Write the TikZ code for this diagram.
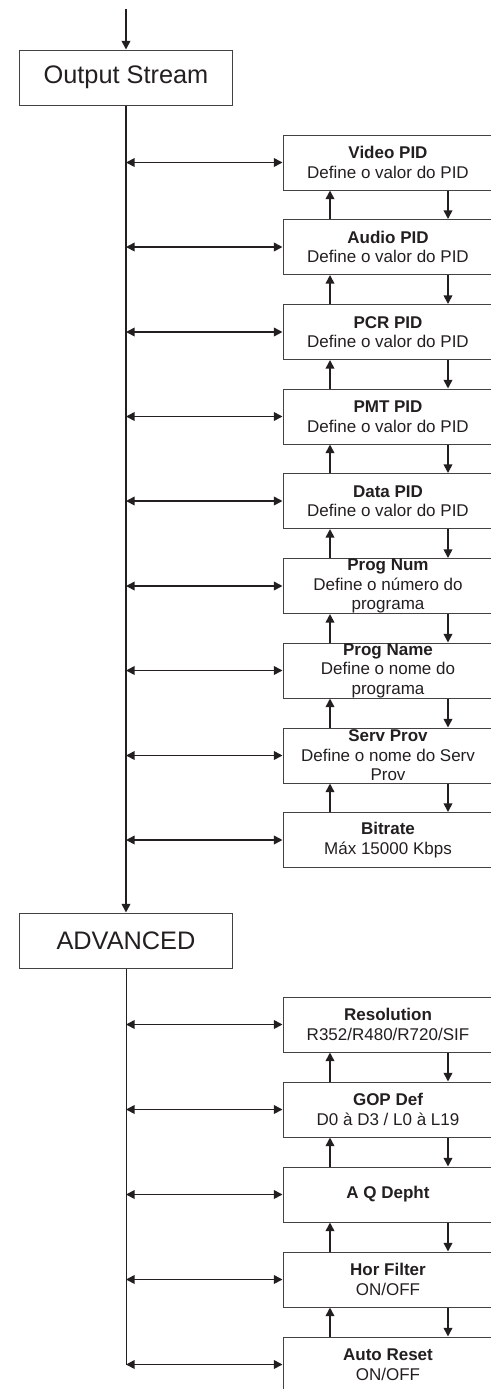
\documentclass[tikz,border=0pt]{standalone}
\usepackage{fontspec}
\setmainfont{Liberation Sans}
\usetikzlibrary{arrows.meta}
\definecolor{ink}{HTML}{231F20}

\begin{document}
\begin{tikzpicture}[x=0.75pt,y=-0.75pt,
  >={Triangle[length=6.5pt,width=6.5pt]},
  menu/.style={draw=ink!85,line width=0.75pt,text=ink,minimum width=159.75pt,minimum height=41.25pt,inner sep=0pt,font=\fontsize{19}{23}\selectfont},
  param/.style={draw=ink!85,line width=0.75pt,text=ink,minimum width=157.5pt,minimum height=41.25pt,inner sep=0pt,align=center,font=\fontsize{12.75}{14.6}\selectfont},
  link/.style={draw=ink,line width=1.25pt}]
\useasboundingbox (0,0) rectangle (491,1389);
\coordinate (t) at (126,9);
\coordinate (s) at (126,0);
\coordinate (u) at (330,0);
\coordinate (d) at (448,0);
\node (0) at (126,77.5) [menu] {Output Stream};
\node (1) at (388,162.5) [param] {\textbf{Video PID}\\Define o valor do PID};
\node (2) at (388,247) [param] {\textbf{Audio PID}\\Define o valor do PID};
\node (3) at (388,332) [param] {\textbf{PCR PID}\\Define o valor do PID};
\node (4) at (388,416.5) [param] {\textbf{PMT PID}\\Define o valor do PID};
\node (5) at (388,501) [param] {\textbf{Data PID}\\Define o valor do PID};
\node (6) at (388,586) [param] {\textbf{Prog Num}\\Define o número do\\programa};
\node (7) at (388,670.5) [param] {\textbf{Prog Name}\\Define o nome do\\programa};
\node (8) at (388,755.5) [param] {\textbf{Serv Prov}\\Define o nome do Serv\\Prov};
\node (9) at (388,840) [param] {\textbf{Bitrate}\\Máx 15000 Kbps};
\node (10) at (126,940.5) [menu] {ADVANCED};
\node (11) at (388,1024.5) [param] {\textbf{Resolution}\\R352/R480/R720/SIF};
\node (12) at (388,1109.5) [param] {\textbf{GOP Def}\\D0 à D3 / L0 à L19};
\node (13) at (388,1194.5) [param] {\textbf{A Q Depht}};
\node (14) at (388,1279.5) [param] {\textbf{Hor Filter}\\ON/OFF};
\node (15) at (388,1364.5) [param] {\textbf{Auto Reset}\\ON/OFF};
\draw [link,->] (t) -- (0);
\draw [link,->] (0) -- (10);
\draw [draw=ink,line width=0.6pt] (10) -- (15.west -| s);
\draw [link,<->] (1.west -| s) -- (1);
\draw [link,<->] (2.west -| s) -- (2);
\draw [link,<->] (3.west -| s) -- (3);
\draw [link,<->] (4.west -| s) -- (4);
\draw [link,<->] (5.west -| s) -- (5);
\draw [link,<->] (6.west -| s) -- (6);
\draw [link,<->] (7.west -| s) -- (7);
\draw [link,<->] (8.west -| s) -- (8);
\draw [link,<->] (9.west -| s) -- (9);
\draw [link,<->] (11.west -| s) -- (11);
\draw [link,<->] (12.west -| s) -- (12);
\draw [link,<->] (13.west -| s) -- (13);
\draw [link,<->] (14.west -| s) -- (14);
\draw [link,<->] (15.west -| s) -- (15);
\draw [link,->] (2.north -| u) -- (1.south -| u);
\draw [link,->] (1.south -| d) -- (2.north -| d);
\draw [link,->] (3.north -| u) -- (2.south -| u);
\draw [link,->] (2.south -| d) -- (3.north -| d);
\draw [link,->] (4.north -| u) -- (3.south -| u);
\draw [link,->] (3.south -| d) -- (4.north -| d);
\draw [link,->] (5.north -| u) -- (4.south -| u);
\draw [link,->] (4.south -| d) -- (5.north -| d);
\draw [link,->] (6.north -| u) -- (5.south -| u);
\draw [link,->] (5.south -| d) -- (6.north -| d);
\draw [link,->] (7.north -| u) -- (6.south -| u);
\draw [link,->] (6.south -| d) -- (7.north -| d);
\draw [link,->] (8.north -| u) -- (7.south -| u);
\draw [link,->] (7.south -| d) -- (8.north -| d);
\draw [link,->] (9.north -| u) -- (8.south -| u);
\draw [link,->] (8.south -| d) -- (9.north -| d);
\draw [link,->] (12.north -| u) -- (11.south -| u);
\draw [link,->] (11.south -| d) -- (12.north -| d);
\draw [link,->] (13.north -| u) -- (12.south -| u);
\draw [link,->] (12.south -| d) -- (13.north -| d);
\draw [link,->] (14.north -| u) -- (13.south -| u);
\draw [link,->] (13.south -| d) -- (14.north -| d);
\draw [link,->] (15.north -| u) -- (14.south -| u);
\draw [link,->] (14.south -| d) -- (15.north -| d);
\end{tikzpicture}
\end{document}
